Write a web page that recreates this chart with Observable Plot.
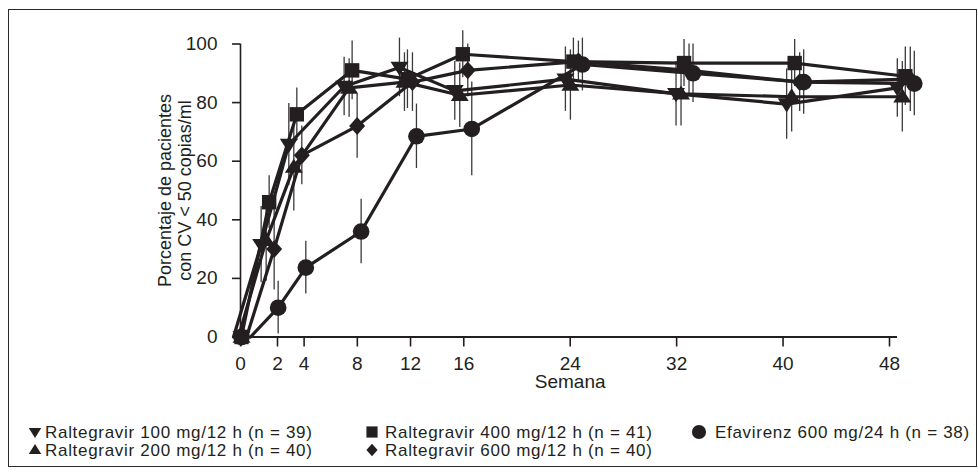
<!DOCTYPE html>
<html>
<head>
<meta charset="utf-8">
<script src="https://cdn.jsdelivr.net/npm/d3@7"></script>
<script src="https://cdn.jsdelivr.net/npm/@observablehq/plot@0.6"></script>
<style>
  html, body { margin: 0; padding: 0; background: #fff; }
  #wrap { position: relative; width: 978px; height: 472px; overflow: hidden; font-family: "Liberation Sans", Arial, Helvetica, sans-serif; color: #231f20; }
  #frame { position: absolute; left: 8px; top: 9px; width: 969px; height: 458px; border: 1px solid #2a2a2a; box-sizing: border-box; }
  .layer { position: absolute; left: 0; top: 0; }
  .leg { position: absolute; font-size: 17px; line-height: 17px; letter-spacing: 0.7px; white-space: nowrap; }
  .legsym { position: absolute; }
</style>
</head>
<body>
<div id="wrap"><div id="frame"></div></div>
<script>
// ---- data ----
const weeks = [0, 2, 4, 8, 12, 16, 24, 32, 40, 48];
const xTicks = [0, 2, 4, 8, 12, 16, 24, 32, 40, 48];
const yTicks = [0, 20, 40, 60, 80, 100];
const seriesNames = [
  "Raltegravir 100 mg/12 h (n = 39)",
  "Raltegravir 200 mg/12 h (n = 40)",
  "Raltegravir 400 mg/12 h (n = 41)",
  "Raltegravir 600 mg/12 h (n = 40)",
  "Efavirenz 600 mg/24 h (n = 38)"
];
const r100 = [0, 31.5, 65.7, 85.5, 92, 84, 88, 83, 79.5, 85];
const r200 = [0, 33, 58, 85, 87, 82.5, 86, 83, 82, 82];
const r400 = [0, 46, 76, 91, 88, 96.5, 94, 93.5, 93.5, 89];
const r600 = [0, 30, 62, 72, 87, 91, 94, 91, 87, 88];
const efv  = [0, 10, 23.7, 36, 68.5, 71, 93, 90, 87, 86.5];
// half-width of the error bars
const r100Err = [0, 13, 14, 10, 10, 10, 11, 11, 12, 10];
const r200Err = [0, 14, 15, 10, 10, 11, 12, 11, 12, 12];
const r400Err = [0, 9, 9, 10, 10, 8, 8, 8, 8, 10];
const r600Err = [0, 14, 10, 11, 10, 9, 7, 9, 10, 11];
const efvErr  = [0, 9, 9, 11, 11, 16, 9, 10, 11, 11];
const yTitle = "Porcentaje de pacientes\ncon CV < 50 copias/ml";
const xTitle = "Semana";

// ---- symbols ----
const ink = "#231f20";
const rOf = s => Math.sqrt(s / Math.PI);
const triDown = {draw(c, s) { const r = rOf(s); c.moveTo(-1.12*r, -0.72*r); c.lineTo(1.12*r, -0.72*r); c.lineTo(0, 1.05*r); c.closePath(); }};
const triUp = {draw(c, s) { const r = rOf(s); c.moveTo(-1.12*r, 0.72*r); c.lineTo(1.12*r, 0.72*r); c.lineTo(0, -1.05*r); c.closePath(); }};
const square = {draw(c, s) { const r = rOf(s); c.rect(-0.9*r, -0.9*r, 1.8*r, 1.8*r); }};
const diamond = {draw(c, s) { const r = rOf(s); c.moveTo(0, -1.12*r); c.lineTo(1.0*r, 0); c.lineTo(0, 1.12*r); c.lineTo(-1.0*r, 0); c.closePath(); }};
const circle = {draw(c, s) { const r = rOf(s); c.moveTo(1.04*r, 0); c.arc(0, 0, 1.04*r, 0, 2*Math.PI); }};

const values = [r100, r200, r400, r600, efv];
const errs = [r100Err, r200Err, r400Err, r600Err, efvErr];
const symbols = [triDown, triUp, square, diamond, circle];
const dodge = [-8, -3, 0, 5, 9];

const series = seriesNames.map((name, i) => ({
  name, symbol: symbols[i], dx: dodge[i],
  points: weeks.map((w, j) => ({week: w, value: values[i][j], err: errs[i][j]}))
}));

const W = 978, H = 400, MT = 43.5, MB = 63.5;
const font = '"Liberation Sans", Arial, Helvetica, sans-serif';

// ---- axes layer ----
const axes = Plot.plot({
  width: W, height: H,
  marginLeft: 240, marginRight: 89, marginTop: MT, marginBottom: MB,
  x: {type: "linear", domain: [0, 2, 48], range: [240, 277, 889]},
  y: {domain: [0, 100]},
  style: {fontFamily: font, fontSize: "19px", color: ink, background: "transparent", overflow: "visible"},
  marks: [
    Plot.ruleY([0], {x1: -0.35, x2: 48.6, stroke: ink, strokeWidth: 2}),
    Plot.ruleX([0], {y1: 0, y2: 100, stroke: ink, strokeWidth: 1.6}),
    Plot.axisY(yTicks, {tickSize: 8, tickPadding: 15, fontSize: 19, strokeWidth: 1.6, label: null, style: {letterSpacing: "0.6px"}}),
    Plot.axisX(xTicks, {tickSize: 10, tickPadding: 9, fontSize: 19, strokeWidth: 1.6, label: null, style: {letterSpacing: "0.6px"}}),
    Plot.text([yTitle], {text: d => d, frameAnchor: "left", textAnchor: "middle", rotate: -90, dx: -66, fontSize: 18, lineHeight: 1.12, fill: ink}),
    Plot.text([xTitle], {text: d => d, x: 24, frameAnchor: "bottom", dy: 51, fontSize: 19, fill: ink, style: {letterSpacing: "0.6px"}})
  ]
});

// ---- data layer ----
const dataMarks = [];
for (const s of series) {
  dataMarks.push(Plot.ruleX(s.points.filter(d => d.err > 0), {x: "week", y1: d => d.value - d.err, y2: d => d.value + d.err, dx: s.dx, stroke: "#3a3a3a", strokeWidth: 1.3}));
}
for (const s of series) {
  dataMarks.push(Plot.line(s.points, {x: "week", y: "value", dx: s.dx, stroke: ink, strokeWidth: 3.2, strokeLinejoin: "round"}));
}
// week 0: all groups coincide, drawn without dodge (square on top)
for (const i of [0, 1, 3, 4, 2]) {
  const s = series[i];
  dataMarks.push(Plot.dot(s.points.filter(d => d.week === 0), {x: "week", y: "value", symbol: s.symbol, r: 8, fill: ink, stroke: "none"}));
}
for (const s of series) {
  dataMarks.push(Plot.dot(s.points.filter(d => d.week > 0), {x: "week", y: "value", dx: s.dx, symbol: s.symbol, r: 8, fill: ink, stroke: "none"}));
}
const data = Plot.plot({
  width: W, height: H,
  marginLeft: 241, marginRight: 73.2, marginTop: MT, marginBottom: MB,
  x: {domain: [0, 48], axis: null},
  y: {domain: [0, 100], axis: null},
  style: {background: "transparent", overflow: "visible"},
  marks: dataMarks
});

const wrap = document.getElementById("wrap");
axes.classList.add("layer");
data.classList.add("layer");
wrap.appendChild(axes);
wrap.appendChild(data);

// ---- legend ----
const legendPos = [
  {sx: 35, tx: 45, cy: 432},
  {sx: 35, tx: 45, cy: 450},
  {sx: 372, tx: 385, cy: 432},
  {sx: 372, tx: 385, cy: 450},
  {sx: 699, tx: 715, cy: 432}
];
const legSize = [5.6, 5.6, 6.2, 5.6, 6.8];
series.forEach((s, i) => {
  const p = legendPos[i];
  const sz = legSize[i];
  const sym = d3.create("svg").attr("class", "legsym").attr("width", 20).attr("height", 20)
    .style("left", (p.sx - 10) + "px").style("top", (p.cy - 10) + "px");
  sym.append("path").attr("transform", "translate(10,10)")
    .attr("d", d3.symbol(s.symbol, sz * sz * Math.PI)()).attr("fill", ink);
  wrap.appendChild(sym.node());
  const t = document.createElement("div");
  t.className = "leg";
  t.style.left = p.tx + "px";
  t.style.top = (p.cy - 8.5) + "px";
  t.textContent = s.name;
  wrap.appendChild(t);
});
</script>
</body>
</html>
